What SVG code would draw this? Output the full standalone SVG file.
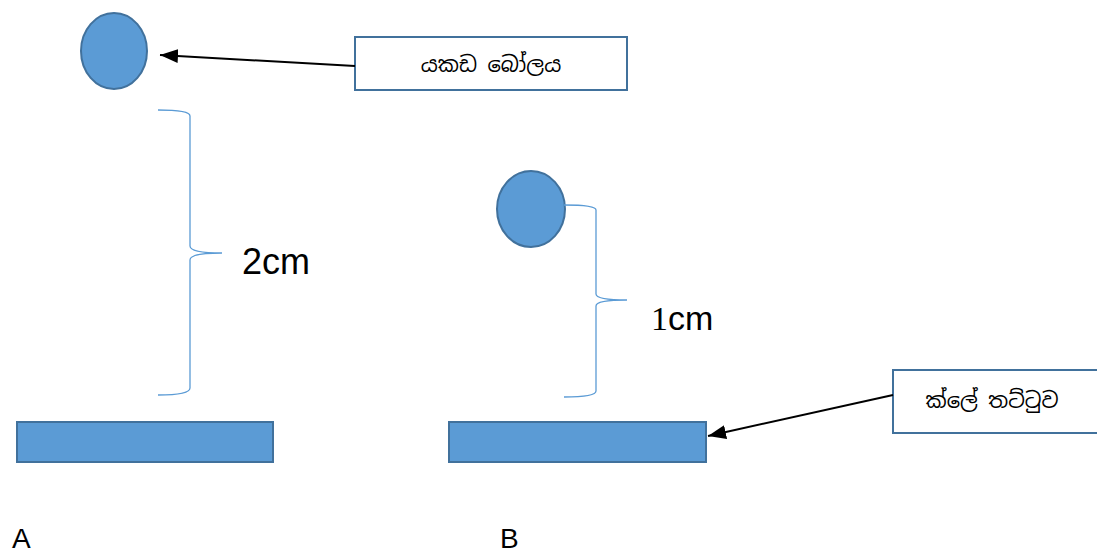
<svg xmlns="http://www.w3.org/2000/svg" width="1097" height="555" viewBox="0 0 1097 555">
<defs>
<marker id="ah" markerWidth="18" markerHeight="14" refX="18" refY="7" orient="auto" markerUnits="userSpaceOnUse" viewBox="0 0 18 14">
<path d="M0,0 L18,7 L0,14 Z" fill="#000"/>
</marker>
<style>
.shape{fill:#5B9BD5;stroke:#41719C;stroke-width:2}
.box{fill:#fff;stroke:#41719C;stroke-width:2}
.brace{fill:none;stroke:#5B9BD5;stroke-width:1.3}
.conn{fill:none;stroke:#000;stroke-width:2}
.si{font-family:"Noto Sans Sinhala","Iskoola Pota","Noto Sans",sans-serif;font-size:21px;fill:#000}
.lbl{font-family:"Liberation Sans",Arial,sans-serif;fill:#000}
.ser{font-family:"Liberation Serif","Times New Roman",serif}
</style>
</defs>
<rect width="1097" height="555" fill="#fff"/>
<g id="ballA"><ellipse class="shape" cx="114" cy="51" rx="33" ry="38"/></g>
<g id="labelBall"><rect class="box" x="355" y="37" width="272" height="53"/><text class="si" x="491" y="72" text-anchor="middle">යකඩ බෝලය</text></g>
<g id="braceA"><path class="brace" d="M158,110 Q190,110 190,116 L190,246 Q190,253 222,253 Q190,253 190,260 L190,388 Q190,395 158,395"/><text class="lbl" x="242" y="274" font-size="36">2cm</text></g>
<g id="plateA"><rect class="shape" x="17" y="422" width="256" height="40"/></g>
<g id="labelA"><text class="lbl" x="12" y="548" font-size="28">A</text></g>
<g id="ballB"><ellipse class="shape" cx="531" cy="209" rx="34" ry="38"/></g>
<g id="braceB"><path class="brace" d="M564,205 Q596,205 596,210 L596,294 Q596,300 627,300 Q596,300 596,306 L596,391 Q596,397 564,397"/><text x="651" y="330" font-size="34"><tspan class="ser">1</tspan><tspan class="lbl">cm</tspan></text></g>
<g id="plateB"><rect class="shape" x="449" y="422" width="257" height="40"/></g>
<g id="labelB"><text class="lbl" x="500" y="548" font-size="28">B</text></g>
<g id="labelClay"><rect class="box" x="893" y="370" width="210" height="63"/><text class="si" x="992" y="408" text-anchor="middle">ක්ලේ තට්ටුව</text></g>
<g id="connectors">
<line class="conn" x1="355" y1="66" x2="160" y2="55" marker-end="url(#ah)"/>
<line class="conn" x1="893" y1="395" x2="708" y2="436" marker-end="url(#ah)"/>
</g>
</svg>
